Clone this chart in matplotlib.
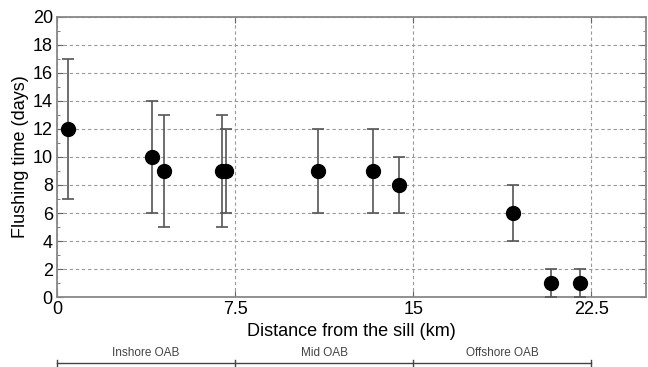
import matplotlib
matplotlib.use('Agg')
import matplotlib.pyplot as plt
from matplotlib.ticker import MultipleLocator
import matplotlib.transforms as mtransforms

plt.rcParams['font.family'] = ['Liberation Sans', 'DejaVu Sans']

# Data
distance = [0.45, 4.0, 4.5, 6.95, 7.1, 11.0, 13.3, 14.4, 19.2, 20.8, 22.0]
flushing = [12, 10, 9, 9, 9, 9, 9, 8, 6, 1, 1]
err_low = [7, 6, 5, 5, 6, 6, 6, 6, 4, 0, 0]
err_high = [17, 14, 13, 13, 12, 12, 12, 10, 8, 2, 2]

zones = ['Inshore OAB', 'Mid OAB', 'Offshore OAB']
zone_edges = [0, 7.5, 15, 22.5]

yerr = [[f - lo for f, lo in zip(flushing, err_low)],
        [hi - f for f, hi in zip(flushing, err_high)]]

fig = plt.figure(figsize=(6.48, 3.67), dpi=100)
ax = fig.add_axes([0.088, 0.19, 0.909, 0.765])

ax.errorbar(distance, flushing, yerr=yerr, fmt='o', color='black',
            ecolor='#555555', elinewidth=1.2, capsize=4, capthick=1.2,
            markersize=10, zorder=3)

ax.set_xlim(0, 24.8)
ax.set_ylim(0, 20)
ax.set_xticks([0, 7.5, 15, 22.5])
ax.set_xticklabels(['0', '7.5', '15', '22.5'])
ax.set_yticks(range(0, 21, 2))
ax.yaxis.set_minor_locator(MultipleLocator(1))

ax.grid(True, which='major', linestyle=(0, (3, 2.5)), color='#999999', linewidth=0.8)
ax.tick_params(which='both', direction='in', top=True, right=True,
               labelsize=13, pad=3, color='#666666')
ax.tick_params(which='major', length=4)
ax.tick_params(which='minor', length=2)
for sp in ax.spines.values():
    sp.set_color('#888888')
    sp.set_linewidth(1.3)

ax.set_xlabel('Distance from the sill (km)', fontsize=13, labelpad=3)
ax.set_ylabel('Flushing time (days)', fontsize=13, labelpad=3)

# Zone bracket below the axis
trans = mtransforms.blended_transform_factory(ax.transData, ax.transAxes)
ax.plot([zone_edges[0], zone_edges[-1]], [-0.233, -0.233], color='#444444',
        linewidth=1.0, transform=trans, clip_on=False)
for xe in zone_edges:
    ax.plot([xe, xe], [-0.245, -0.222], color='#444444', linewidth=1.0,
            transform=trans, clip_on=False)
for i, name in enumerate(zones):
    xc = (zone_edges[i] + zone_edges[i + 1]) / 2
    ax.text(xc, -0.198, name, transform=trans, ha='center', va='center',
            fontsize=8.5, color='#444444')

fig.savefig('out.png', dpi=100)
